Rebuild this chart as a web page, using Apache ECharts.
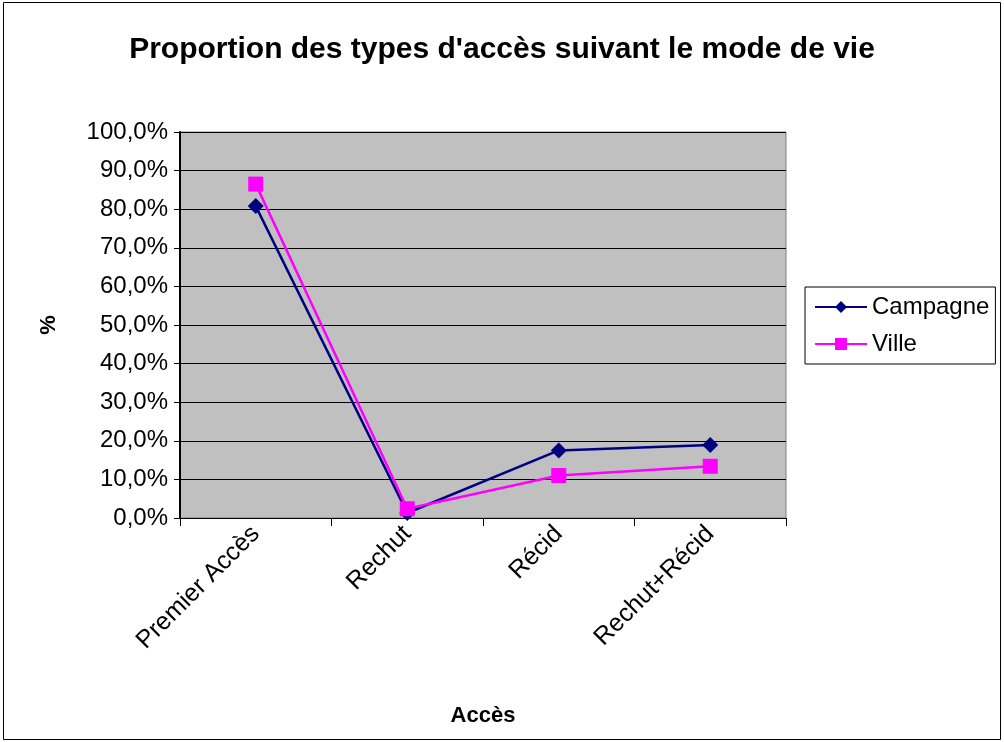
<!DOCTYPE html>
<html>
<head>
<meta charset="utf-8">
<script src="https://cdn.jsdelivr.net/npm/echarts@6/dist/echarts.min.js"></script>
<style>
  html, body { margin: 0; padding: 0; background: #fff; }
  #chart { width: 1004px; height: 742px; }
</style>
</head>
<body>
<div id="chart"></div>
<script>
// catégories d'accès
const categories = ['Premier Accès', 'Rechut', 'Récid', 'Rechut+Récid'];
// valeurs en %
const campagne = [80.8, 1.3, 17.5, 18.9];
const ville = [86.5, 2.4, 11.0, 13.4];

const font = '"Liberation Sans", Arial, sans-serif';

const chart = echarts.init(document.getElementById('chart'));
const option = {
    backgroundColor: '#ffffff',
    animation: false,
    title: {
        text: "Proportion des types d'accès suivant le mode de vie",
        left: 'center',
        top: 30,
        textStyle: { fontFamily: font, fontSize: 30, fontWeight: 'bold', color: '#000' }
    },
    graphic: [{
        type: 'rect',
        shape: { x: 3.5, y: 2.5, width: 997, height: 737 },
        style: { fill: 'none', stroke: '#000', lineWidth: 1 },
        silent: true
    }],
    legend: {
        orient: 'vertical',
        left: 805,
        top: 287,
        padding: [8, 6, 8, 9],
        borderColor: '#000',
        borderWidth: 1,
        itemWidth: 52,
        itemHeight: 15,
        itemGap: 13,
        textStyle: { fontFamily: font, fontSize: 24, color: '#000' },
        data: ['Campagne', 'Ville']
    },
    grid: {
        left: 180,
        right: 218,
        top: 132,
        bottom: 224,
        show: true,
        backgroundColor: '#c0c0c0',
        borderColor: '#808080',
        borderWidth: 1
    },
    xAxis: {
        type: 'category',
        data: categories,
        boundaryGap: true,
        name: 'Accès',
        nameLocation: 'middle',
        nameGap: 187,
        nameTextStyle: { fontFamily: font, fontSize: 22, fontWeight: 'bold', color: '#000' },
        axisLine: { show: true, lineStyle: { color: '#000', width: 1 } },
        axisTick: { show: true, inside: false, length: 8, alignWithLabel: false, lineStyle: { color: '#000' } },
        axisLabel: {
            rotate: 45,
            margin: 12,
            fontFamily: font,
            fontSize: 25,
            color: '#000'
        },
        splitLine: { show: false }
    },
    yAxis: {
        type: 'value',
        min: 0,
        max: 100,
        interval: 10,
        name: '%',
        nameLocation: 'middle',
        nameGap: 120,
        nameRotate: 90,
        nameTextStyle: { fontFamily: font, fontSize: 22, fontWeight: 'bold', color: '#000' },
        axisLine: { show: true, lineStyle: { color: '#000', width: 2 } },
        axisTick: { show: true, inside: false, length: 6, lineStyle: { color: '#000' } },
        axisLabel: {
            margin: 12,
            fontFamily: font,
            fontSize: 24,
            color: '#000',
            formatter: v => v.toFixed(1).replace('.', ',') + '%'
        },
        splitLine: { show: true, lineStyle: { color: '#000', width: 1 } }
    },
    series: [
        {
            name: 'Campagne',
            type: 'line',
            data: campagne,
            symbol: 'diamond',
            symbolSize: 16,
            color: '#000080',
            lineStyle: { color: '#000080', width: 2.5 },
            itemStyle: { color: '#000080' }
        },
        {
            name: 'Ville',
            type: 'line',
            data: ville,
            symbol: 'rect',
            symbolSize: 15,
            color: '#ff00ff',
            lineStyle: { color: '#ff00ff', width: 2.5 },
            itemStyle: { color: '#ff00ff' }
        }
    ]
};
chart.setOption(option);
</script>
</body>
</html>
